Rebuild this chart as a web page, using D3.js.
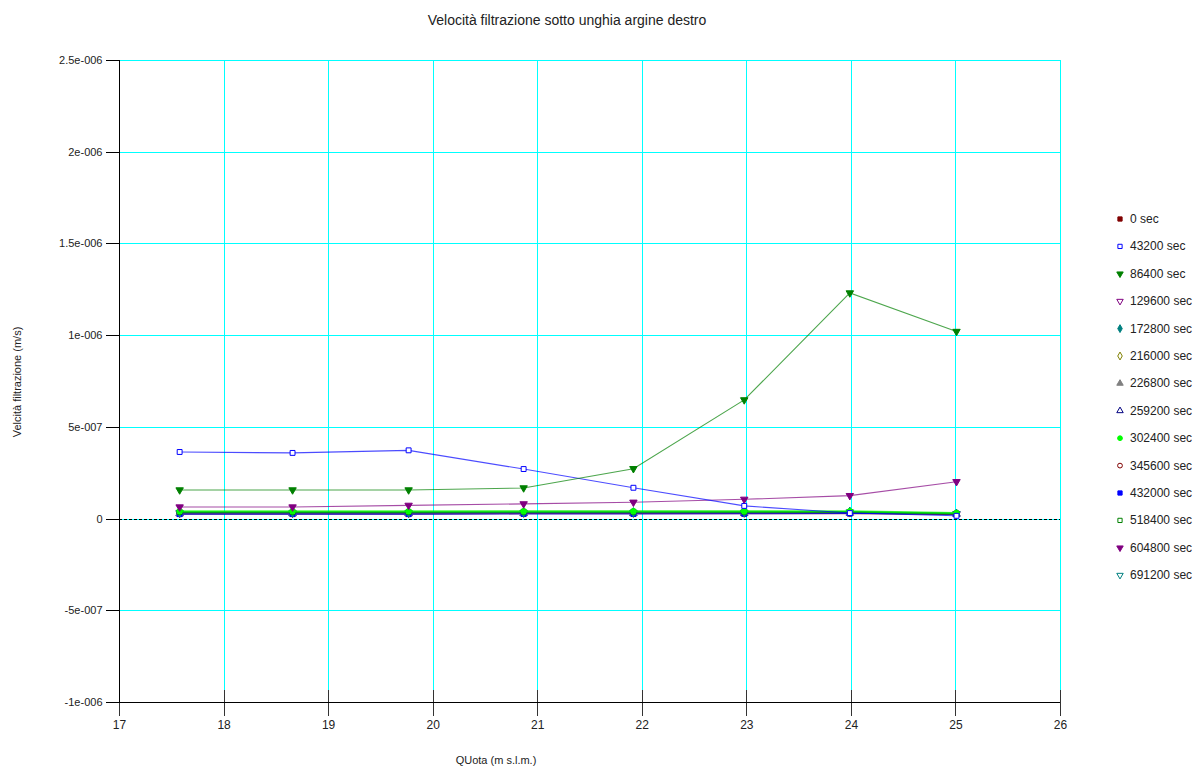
<!DOCTYPE html>
<html>
<head>
<meta charset="utf-8">
<script src="https://cdn.jsdelivr.net/npm/d3@7"></script>
<style>
  body { margin: 0; background: #fff; }
  svg { font-family: "Liberation Sans", Arial, sans-serif; }
</style>
</head>
<body>
<svg id="chart" width="1195" height="767"></svg>
<script>
// quote (m s.l.m.) of the sample points
const quota = [17.58, 18.66, 19.77, 20.87, 21.92, 22.98, 23.99, 25.01];

// velocità per time step (m/s)
const v0 = [0.25e-7, 0.25e-7, 0.25e-7, 0.26e-7, 0.26e-7, 0.26e-7, 0.27e-7, 0.22e-7];
const v43200 = [3.63e-7, 3.58e-7, 3.72e-7, 2.70e-7, 1.68e-7, 0.69e-7, 0.30e-7, 0.15e-7];
const v86400 = [1.56e-7, 1.56e-7, 1.56e-7, 1.67e-7, 2.72e-7, 6.47e-7, 12.3e-7, 10.2e-7];
const v129600 = [0.30e-7, 0.30e-7, 0.30e-7, 0.31e-7, 0.31e-7, 0.31e-7, 0.33e-7, 0.25e-7];
const v172800 = [0.33e-7, 0.33e-7, 0.33e-7, 0.34e-7, 0.35e-7, 0.36e-7, 0.38e-7, 0.27e-7];
const v216000 = [0.30e-7, 0.30e-7, 0.30e-7, 0.31e-7, 0.31e-7, 0.32e-7, 0.33e-7, 0.26e-7];
const v226800 = [0.29e-7, 0.29e-7, 0.29e-7, 0.30e-7, 0.30e-7, 0.31e-7, 0.32e-7, 0.26e-7];
const v259200 = [0.27e-7, 0.27e-7, 0.27e-7, 0.28e-7, 0.28e-7, 0.29e-7, 0.30e-7, 0.24e-7];
const v302400 = [0.40e-7, 0.40e-7, 0.40e-7, 0.40e-7, 0.40e-7, 0.40e-7, 0.40e-7, 0.30e-7];
const v345600 = [0.27e-7, 0.27e-7, 0.27e-7, 0.28e-7, 0.28e-7, 0.28e-7, 0.29e-7, 0.24e-7];
const v432000 = [0.24e-7, 0.24e-7, 0.24e-7, 0.25e-7, 0.25e-7, 0.26e-7, 0.28e-7, 0.26e-7];
const v518400 = [0.36e-7, 0.36e-7, 0.36e-7, 0.37e-7, 0.37e-7, 0.37e-7, 0.36e-7, 0.28e-7];
const v604800 = [0.63e-7, 0.63e-7, 0.72e-7, 0.80e-7, 0.89e-7, 1.05e-7, 1.25e-7, 2.01e-7];
const v691200 = [0.32e-7, 0.32e-7, 0.32e-7, 0.33e-7, 0.33e-7, 0.34e-7, 0.36e-7, 0.27e-7];

const seriesNames = ["0 sec", "43200 sec", "86400 sec", "129600 sec", "172800 sec", "216000 sec",
  "226800 sec", "259200 sec", "302400 sec", "345600 sec", "432000 sec", "518400 sec",
  "604800 sec", "691200 sec"];
const seriesValues = [v0, v43200, v86400, v129600, v172800, v216000, v226800, v259200,
  v302400, v345600, v432000, v518400, v604800, v691200];

const xTicks = [17, 18, 19, 20, 21, 22, 23, 24, 25, 26];
const yTicks = [-1e-6, -5e-7, 0, 5e-7, 1e-6, 1.5e-6, 2e-6, 2.5e-6];
const yTickLabels = ["-1e-006", "-5e-007", "0", "5e-007", "1e-006", "1.5e-006", "2e-006", "2.5e-006"];

// marker style for each series: [colour, shape, filled]
const styles = [
  ["#800000", "square", true],
  ["#0000ff", "square", false],
  ["#008000", "tridown", true],
  ["#800080", "tridown", false],
  ["#008080", "diamond", true],
  ["#808000", "diamond", false],
  ["#808080", "triup", true],
  ["#000080", "triup", false],
  ["#00ff00", "circle", true],
  ["#800000", "circle", false],
  ["#0000ff", "square", true],
  ["#008000", "square", false],
  ["#800080", "tridown", true],
  ["#008080", "tridown", false]
];
// order in which the lines are painted (later on top)
const drawOrder = [0, 9, 7, 6, 5, 3, 10, 13, 4, 11, 8, 12, 1, 2];

let width = 1195;
let height = 767;
let margin = { top: 60, right: 135, bottom: 65, left: 119 };
let svg = d3.select("#chart");

let x = d3.scaleLinear()
  .domain([17, 26])
  .range([margin.left, width - margin.right]);

let y = d3.scaleLinear()
  .domain([-1e-6, 2.5e-6])
  .range([height - margin.bottom, margin.top]);

// grid, drawn as 1px rects so every line keeps the same colour
let grid = svg.append("g").attr("class", "grid").attr("shape-rendering", "crispEdges");
grid.selectAll("rect.h")
  .data(yTicks)
  .join("rect")
  .attr("class", "h")
  .attr("x", margin.left).attr("width", x(26) - margin.left + 1)
  .attr("y", d => Math.round(y(d))).attr("height", 1)
  .style("fill", "#00ffff");
grid.selectAll("rect.v")
  .data(xTicks.slice(1))
  .join("rect")
  .attr("class", "v")
  .attr("x", d => Math.round(x(d))).attr("width", 1)
  .attr("y", y(2.5e-6)).attr("height", y(-1e-6) - y(2.5e-6))
  .style("fill", "#00ffff");

// zero line (dashed)
svg.append("line")
  .attr("x1", margin.left).attr("x2", x(26))
  .attr("y1", Math.round(y(0)) + 0.5).attr("y2", Math.round(y(0)) + 0.5)
  .attr("shape-rendering", "crispEdges")
  .style("stroke", "#000")
  .style("stroke-dasharray", "3,2")
  .style("stroke-width", 1);

// axes
let xAxis = d3.axisBottom(x)
  .tickValues(xTicks)
  .tickSize(13)
  .tickPadding(5)
  .tickFormat(d3.format("d"));
let xAxisG = svg.append("g")
  .attr("class", "x axis")
  .attr("shape-rendering", "crispEdges")
  .attr("transform", `translate(0,${Math.round(y(-1e-6)) + 0.5})`)
  .call(xAxis);
xAxisG.select(".domain").remove();
xAxisG.selectAll(".tick line").attr("y1", -13).style("stroke", "#333");
xAxisG.selectAll(".tick text").style("font-size", "12px").style("fill", "#222");
xAxisG.append("line")
  .attr("x1", margin.left).attr("x2", x(26))
  .style("stroke", "#000");

let yAxis = d3.axisLeft(y)
  .tickValues(yTicks)
  .tickSize(14)
  .tickPadding(3)
  .tickFormat((d, i) => yTickLabels[i]);
let yAxisG = svg.append("g")
  .attr("class", "y axis")
  .attr("shape-rendering", "crispEdges")
  .attr("transform", `translate(${margin.left + 0.5},0)`)
  .call(yAxis);
yAxisG.select(".domain").remove();
yAxisG.selectAll(".tick line").style("stroke", "#000");
yAxisG.selectAll(".tick text").style("font-size", "11px").style("fill", "#222");
yAxisG.append("line")
  .attr("y1", y(2.5e-6)).attr("y2", y(-1e-6))
  .style("stroke", "#000");

// series
let line = d3.line()
  .x((d, i) => x(quota[i]))
  .y(d => y(d));

function symbolFor(shape) {
  if (shape === "square") return d3.symbolSquare;
  if (shape === "circle") return d3.symbolCircle;
  if (shape === "diamond") return d3.symbolDiamond;
  return d3.symbolTriangle;
}

function drawMarker(g, cx, cy, st, size) {
  let rot = st[1] === "tridown" ? 180 : 0;
  g.append("path")
    .attr("d", d3.symbol().type(symbolFor(st[1])).size(size)())
    .attr("transform", `translate(${cx},${cy}) rotate(${rot})`)
    .style("fill", st[2] ? st[0] : "#fff")
    .style("stroke", st[0])
    .style("stroke-width", 1);
}

let linesG = svg.append("g").attr("id", "lines");
drawOrder.forEach(k => {
  let st = styles[k];
  let g = linesG.append("g").attr("class", "series s" + k);
  g.append("path")
    .attr("d", line(seriesValues[k]))
    .style("fill", "none")
    .style("stroke", st[0])
    .style("stroke-opacity", 0.7)
    .style("stroke-width", k === 8 || k === 11 ? 2 : 1.1);
  seriesValues[k].forEach((v, i) => drawMarker(g, x(quota[i]), y(v), st, 24));
});

// legend
let legend = svg.append("g").attr("id", "legend");
seriesNames.forEach((name, i) => {
  let ly = 219 + i * 27.4;
  drawMarker(legend, 1120, ly, styles[i], 18);
  legend.append("text")
    .attr("x", 1130)
    .attr("y", ly + 4)
    .style("font-size", "12px")
    .style("fill", "#222")
    .text(name);
});

// title and labels
svg.append("text")
  .attr("x", 567)
  .attr("y", 25)
  .attr("text-anchor", "middle")
  .style("font-size", "14px")
  .style("fill", "#222")
  .text("Velocità filtrazione sotto unghia argine destro");

svg.append("text")
  .attr("transform", "translate(21,382) rotate(-90)")
  .attr("text-anchor", "middle")
  .style("font-size", "11px")
  .style("fill", "#222")
  .text("Velcità filtrazione (m/s)");

svg.append("text")
  .attr("x", 496)
  .attr("y", 764)
  .attr("text-anchor", "middle")
  .style("font-size", "11px")
  .style("fill", "#222")
  .text("QUota (m s.l.m.)");
</script>
</body>
</html>
